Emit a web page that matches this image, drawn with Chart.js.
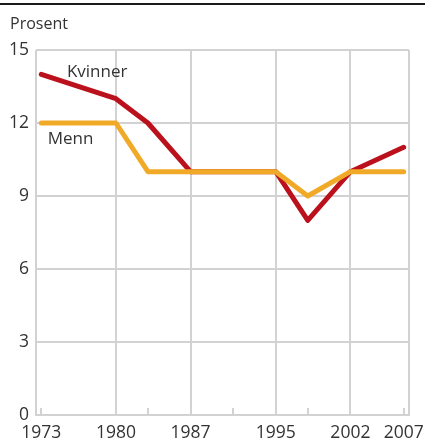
<!DOCTYPE html>
<html><head><meta charset="utf-8">
<script src="https://cdn.jsdelivr.net/npm/chart.js@4/dist/chart.umd.min.js"></script>
<style>html,body{margin:0;padding:0;background:#fff}#wrap{width:425px;height:440px;position:relative}</style>
</head><body><div id="wrap"><canvas id="c" width="425" height="440"></canvas></div>
<script>
const years = [1973, 1980, 1983, 1987, 1995, 1998, 2002, 2007];
const kvinner = [14, 13, 12, 10, 10, 8, 10, 11];
const menn = [12, 12, 10, 10, 10, 9, 10, 10];
const xTickLabels = [1973, 1980, 1987, 1995, 2002, 2007];
const xMajorGrid = [1980, 1987, 1995, 2002];
const xMinorTicks = [1973, 1983, 1991, 1998, 2007];
const yTicks = [0, 3, 6, 9, 12, 15];
const yTitle = 'Prosent';
const seriesNames = ['Kvinner', 'Menn'];

const FONT = '"Open Sans", "Noto Sans", sans-serif';
const GRID = '#d2d2d2';
const TXT = '#333333';

const gridPlugin = {
  id: 'customGrid',
  beforeDatasetsDraw(chart) {
    const ctx = chart.ctx, x = chart.scales.x, y = chart.scales.y, a = chart.chartArea;
    ctx.save();
    // top black rule
    ctx.fillStyle = '#1a1a1a';
    ctx.fillRect(0, 3, 425, 2);
    ctx.strokeStyle = GRID; ctx.lineWidth = 2;
    ctx.beginPath();
    yTicks.forEach(v => { const py = Math.round(y.getPixelForValue(v)); ctx.moveTo(a.left, py); ctx.lineTo(a.right, py); });
    xMajorGrid.forEach(v => { const px = Math.round(x.getPixelForValue(v)); ctx.moveTo(px, a.top); ctx.lineTo(px, a.bottom); });
    ctx.moveTo(a.left, a.top); ctx.lineTo(a.left, a.bottom + 1);
    ctx.moveTo(a.right, a.top); ctx.lineTo(a.right, a.bottom + 1);
    xMinorTicks.forEach(v => { const px = Math.round(x.getPixelForValue(v)); ctx.moveTo(px, a.bottom); ctx.lineTo(px, a.bottom - 7); });
    ctx.stroke();
    // tick labels
    ctx.fillStyle = TXT;
    ctx.font = '17.5px ' + FONT;
    ctx.textAlign = 'right'; ctx.textBaseline = 'middle';
    yTicks.forEach(v => ctx.fillText(String(v), 29, y.getPixelForValue(v)));
    ctx.textAlign = 'center'; ctx.textBaseline = 'alphabetic';
    xTickLabels.forEach(v => ctx.fillText(String(v), x.getPixelForValue(v), 438));
    ctx.textAlign = 'left';
    ctx.font = '16px ' + FONT;
    ctx.fillText(yTitle, 10, 29);
    // series labels
    ctx.font = '17px ' + FONT;
    ctx.fillText(seriesNames[0], x.getPixelForValue(1975.4), y.getPixelForValue(13.9));
    ctx.fillText(seriesNames[1], x.getPixelForValue(1973.6), y.getPixelForValue(11.15));
    ctx.restore();
  }
};

new Chart(document.getElementById('c'), {
  type: 'line',
  data: {
    datasets: [
      { label: seriesNames[1], data: years.map((yr, i) => ({x: yr, y: menn[i]})), borderColor: '#f0aa28', borderWidth: 5, pointRadius: 0, tension: 0, order: 1, borderJoinStyle: 'round', borderCapStyle: 'round' },
      { label: seriesNames[0], data: years.map((yr, i) => ({x: yr, y: kvinner[i]})), borderColor: '#bb111c', borderWidth: 5, pointRadius: 0, tension: 0, order: 2, borderJoinStyle: 'round', borderCapStyle: 'round' }
    ]
  },
  options: {
    responsive: false, animation: false, devicePixelRatio: 1,
    layout: { padding: { left: 36, right: 16, top: 50, bottom: 25 } },
    plugins: { legend: { display: false }, tooltip: { enabled: false } },
    scales: {
      x: { type: 'linear', min: 1972.5, max: 2007.5, display: false },
      y: { min: 0, max: 15, display: false }
    }
  },
  plugins: [gridPlugin]
});
</script></body></html>
